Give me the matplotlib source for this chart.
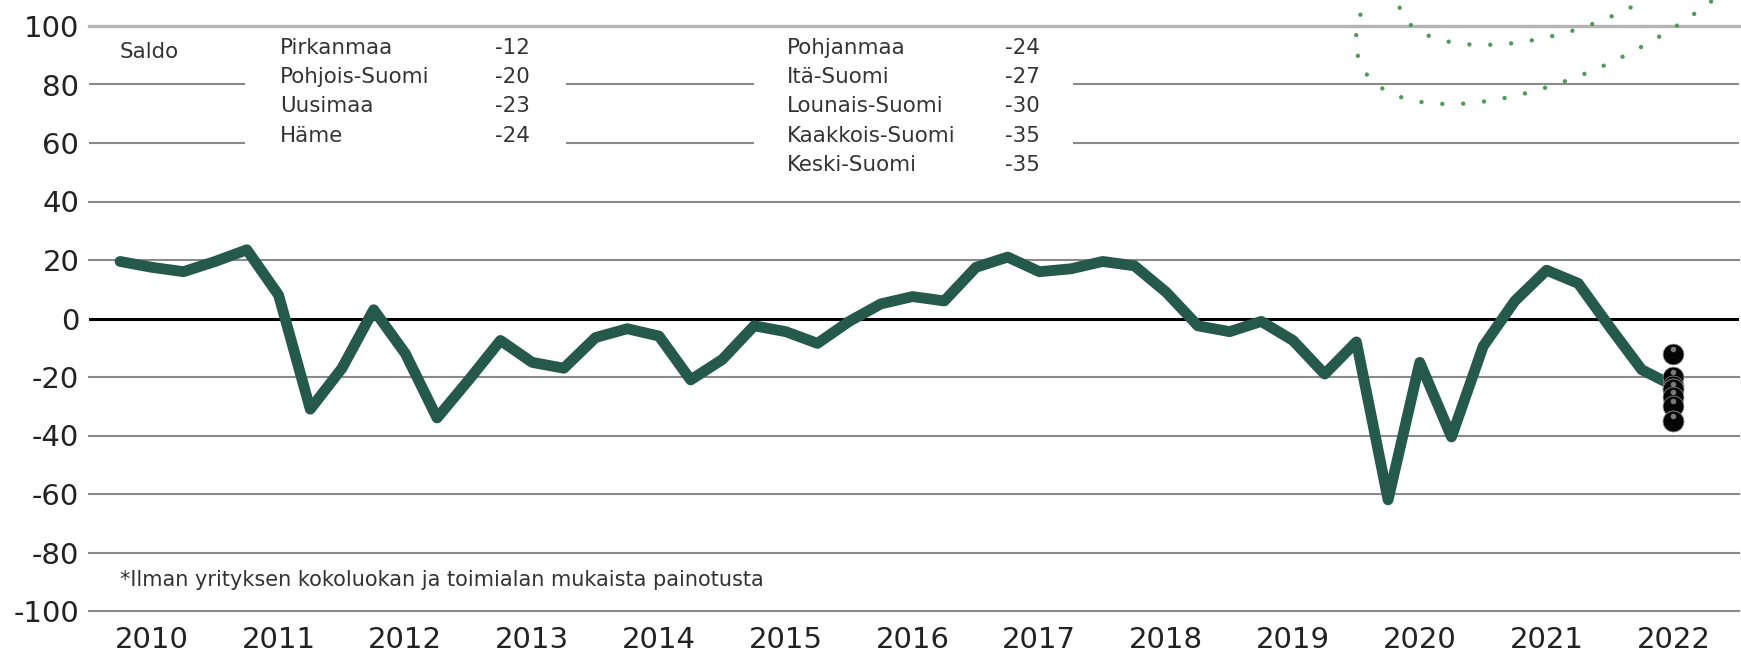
import numpy as np
import matplotlib
matplotlib.use("Agg")
import matplotlib.pyplot as plt
from matplotlib.patches import Ellipse
from matplotlib.transforms import offset_copy

# quarterly balance figure (saldo), first point one quarter before the 2010 label
saldo = [19.5, 17.5, 16, 19.5, 23.5, 8, -31, -17, 3, -12,
         -34, -21, -7.5, -15, -17, -6.5, -3.5, -6, -21, -14,
         -2.5, -4.5, -8.5, -1, 5, 7.5, 6, 17.5, 21, 16,
         17, 19.5, 18, 9, -2.5, -4.5, -1, -7.5, -19, -8,
         -62, -15, -40.5, -9.5, 6, 16.5, 12, -3, -17.5, -23]

regions = ["Pirkanmaa", "Pohjois-Suomi", "Uusimaa", "Häme",
           "Pohjanmaa", "Itä-Suomi", "Lounais-Suomi", "Kaakkois-Suomi", "Keski-Suomi"]
region_values = [-12, -20, -23, -24, -24, -27, -30, -35, -35]

years = ["2010", "2011", "2012", "2013", "2014", "2015", "2016",
         "2017", "2018", "2019", "2020", "2021", "2022"]
y_ticks = [-100, -80, -60, -40, -20, 0, 20, 40, 60, 80, 100]
y_labels = [str(v) for v in y_ticks]

quarter = np.arange(len(saldo))
year_pos = quarter[1::4]

W, H = 1741, 654
fig = plt.figure(figsize=(W / 100, H / 100), dpi=100)
ax = fig.add_axes([89 / W, 43 / H, 1650 / W, 585 / H])
ax.set_xlim(-0.98, 51.07)
ax.set_ylim(-100, 100)
for s in ax.spines.values():
    s.set_visible(False)

ax.set_xticks(year_pos)
ax.set_xticklabels(years)
ax.set_yticks(y_ticks)
ax.set_yticklabels(y_labels)
ax.tick_params(length=0, labelsize=21, colors="#222222")
ax.tick_params(axis="y", pad=7)
ax.tick_params(axis="x", pad=11)

# gridlines, broken behind the region list at 80 and 60
grid_c = "#8a8a8a"
ax.axhline(100, color="#b4b4b4", lw=2.4, zorder=1, clip_on=False)
for v in [40, 20, -20, -40, -60, -80, -100]:
    ax.axhline(v, color=grid_c, lw=1.5, zorder=1, clip_on=False)
segments = [(-0.98, 3.94), (14.07, 20.0), (30.06, 51.07)]
for v in [80, 60]:
    for x0, x1 in segments:
        ax.hlines(v, x0, x1, color=grid_c, lw=1.5, zorder=1)
ax.axhline(0, color="black", lw=2.2, zorder=2)

ax.plot(quarter, saldo, color="#25594a", lw=7.8, solid_joinstyle="round",
        solid_capstyle="round", zorder=3)

# regional values as black balls at the last quarter
hl = offset_copy(ax.transData, fig=fig, x=0, y=5, units="dots")
for k, v in enumerate(region_values):
    ax.scatter([quarter[-1]], [v], s=225, c="#050505", edgecolors="#9a9a9a",
               linewidths=0.5, zorder=4 + k * 0.1)
    ax.scatter([quarter[-1]], [v], s=16, c="#7a7a7a", linewidths=0,
               transform=hl, zorder=4.05 + k * 0.1)

txt = dict(fontsize=15.4, color="#333333", va="center", ha="left")
ax.text(0.0, 91, "Saldo", **txt)
rows = [92.5, 82.5, 72.5, 62.5, 52.5]
for i in range(4):
    ax.text(5.05, rows[i], regions[i], **txt)
    ax.text(11.83, rows[i], str(region_values[i]), **txt)
for i in range(4, 9):
    ax.text(21.04, rows[i - 4], regions[i], **txt)
    ax.text(27.9, rows[i - 4], str(region_values[i]), **txt)

ax.text(0.0, -89.5, "*Ilman yrityksen kokoluokan ja toimialan mukaista painotusta",
        fontsize=15, color="#333333", va="center", ha="left")

# dotted decoration in the top right corner (pixel coordinates)
ov = fig.add_axes([0, 0, 1, 1])
ov.set_xlim(0, W)
ov.set_ylim(H, 0)
ov.axis("off")
for cx, cy, w, h, ang in [(1583, -50, 500, 226, -28), (1557, -42, 330, 148, -18)]:
    ov.add_patch(Ellipse((cx, cy), w, h, angle=ang, fill=False, edgecolor="#4f9a58",
                         lw=3.2, linestyle=(0, (0.001, 4.7)), capstyle="round"))

fig.savefig("out.png", dpi=100)
